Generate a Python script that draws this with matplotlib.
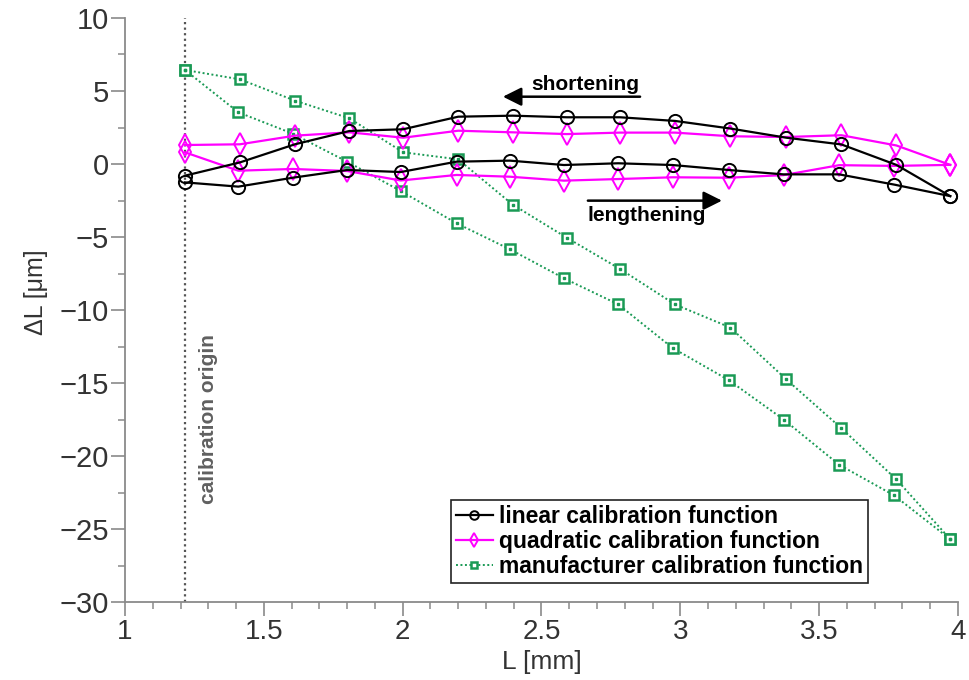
import matplotlib
matplotlib.use("Agg")
import matplotlib.pyplot as plt
from matplotlib.ticker import MultipleLocator, FixedLocator

# ---------------- data ----------------
x_len = [1.216, 1.408, 1.604, 1.800, 1.993, 2.194, 2.386, 2.581, 2.776, 2.972,
         3.174, 3.372, 3.572, 3.770, 3.972]
x_short = [1.216, 1.414, 1.612, 1.808, 2.002, 2.200, 2.396, 2.591, 2.783, 2.981,
           3.180, 3.382, 3.580, 3.778, 3.972]

lin_len = [-1.26, -1.55, -0.94, -0.41, -0.55, 0.16, 0.23, -0.07, 0.05, -0.07,
           -0.41, -0.71, -0.71, -1.41, -2.2]
lin_short = [-0.80, 0.11, 1.35, 2.26, 2.38, 3.24, 3.31, 3.20, 3.20, 2.95,
             2.43, 1.80, 1.34, -0.06, -2.2]

quad_len = [0.80, -0.46, -0.34, -0.48, -1.13, -0.75, -0.87, -1.14, -1.03, -0.91,
            -0.94, -0.76, -0.08, -0.13, -0.06]
quad_short = [1.30, 1.35, 1.94, 2.17, 1.80, 2.28, 2.17, 2.05, 2.15, 2.15,
              1.90, 1.85, 1.97, 1.27, -0.06]

manu_len = [6.44, 3.54, 2.08, 0.16, -1.85, -4.06, -5.84, -7.83, -9.61, -12.6,
            -14.8, -17.5, -20.6, -22.7, -25.7]
manu_short = [6.44, 5.80, 4.34, 3.13, 0.80, 0.32, -2.78, -5.05, -7.19, -9.62,
              -11.2, -14.76, -18.1, -21.6, -25.7]

series_labels = ["linear calibration function",
                 "quadratic calibration function",
                 "manufacturer calibration function"]

calib_origin = 1.216
x_ticks = [1, 1.5, 2, 2.5, 3, 3.5, 4]
x_ticklabels = ["1", "1.5", "2", "2.5", "3", "3.5", "4"]
y_ticks = [10, 5, 0, -5, -10, -15, -20, -25, -30]
y_ticklabels = ["10", "5", "0", "\u22125", "\u221210", "\u221215", "\u221220", "\u221225", "\u221230"]

# ---------------- style ----------------
plt.rcParams['font.family'] = ['Liberation Sans', 'DejaVu Sans']

BLACK = '#000000'
MAGENTA = '#ff00ff'
GREEN = '#1a9a55'
AXC = '#8a8a8a'
TXT = '#333333'

fig = plt.figure(figsize=(9.69, 6.8), dpi=100)
ax = fig.add_axes([125/969, 1 - 602/680, 833/969, 584/680])

# calibration origin line
ax.axvline(calib_origin, color='#555555', ls=(0, (1, 1.5)), lw=1.6, zorder=1)
ax.text(1.30, -17.5, "calibration origin", rotation=90, ha='center', va='center',
        fontsize=15, fontweight='bold', color='#606060')

# linear
for i, (xs, ys) in enumerate([(x_len, lin_len), (x_short, lin_short)]):
    ax.plot(xs, ys, color=BLACK, lw=1.6, marker='o', ms=9.5, mfc='none', mec=BLACK,
            mew=1.4, label=series_labels[0] if i == 0 else '_nolegend_', zorder=4)
# quadratic
for i, (xs, ys) in enumerate([(x_len, quad_len), (x_short, quad_short)]):
    ax.plot(xs, ys, color=MAGENTA, lw=1.6, marker='d', ms=11, mfc='none', mec=MAGENTA,
            mew=1.4, label=series_labels[1] if i == 0 else '_nolegend_', zorder=3)
# manufacturer
for i, (xs, ys) in enumerate([(x_len, manu_len), (x_short, manu_short)]):
    ax.plot(xs, ys, color=GREEN, lw=1.4, ls=(0, (1, 1.3)), marker='s', ms=7, mfc='white',
            mec=GREEN, mew=1.8, label=series_labels[2] if i == 0 else '_nolegend_', zorder=2)
    ax.plot(xs, ys, ls='none', marker='s', ms=1.6, color=GREEN, zorder=2.5)

# annotations
ax.annotate("", xy=(2.361, 4.61), xytext=(2.855, 4.61),
            arrowprops=dict(arrowstyle='-|>', lw=1.8, color='black', mutation_scale=28,
                            shrinkA=0, shrinkB=0))
ax.text(2.656, 5.45, "shortening", ha='center', va='center', fontsize=15, fontweight='bold')
ax.annotate("", xy=(3.150, -2.51), xytext=(2.667, -2.51),
            arrowprops=dict(arrowstyle='-|>', lw=1.8, color='black', mutation_scale=28,
                            shrinkA=0, shrinkB=0))
ax.text(2.88, -3.55, "lengthening", ha='center', va='center', fontsize=15, fontweight='bold')

# axes
ax.set_xlim(1, 4)
ax.set_ylim(-30, 10)
for s in ['top', 'right']:
    ax.spines[s].set_visible(False)
for s in ['left', 'bottom']:
    ax.spines[s].set_color(AXC)
    ax.spines[s].set_linewidth(1.3)

ax.xaxis.set_major_locator(FixedLocator(x_ticks))
ax.set_xticklabels(x_ticklabels, fontsize=20, color=TXT)
ax.xaxis.set_minor_locator(MultipleLocator(0.1))
ax.yaxis.set_major_locator(FixedLocator(y_ticks))
ax.set_yticklabels(y_ticklabels, fontsize=21, color=TXT)
ax.yaxis.set_minor_locator(MultipleLocator(2.5))

ax.tick_params(axis='both', which='major', direction='out', length=10, width=1.2, color=AXC)
ax.tick_params(axis='both', which='minor', direction='out', length=5, width=1.1, color=AXC)
ax.tick_params(axis='x', which='major', pad=2)
ax.tick_params(axis='y', which='major', pad=1.5)

ax.set_xlabel("L [mm]", fontsize=19, color=TXT)
ax.xaxis.set_label_coords(0.5, -0.082)
ax.set_ylabel("\u0394L [\u03bcm]", fontsize=18, color=TXT)
ax.yaxis.set_label_coords(-0.092, 0.531)

leg = ax.legend(loc='lower right', bbox_to_anchor=(0.892, 0.0325),
                prop={'weight': 'bold', 'size': 16.5}, frameon=True, fancybox=False,
                edgecolor='#222222', framealpha=1, labelspacing=0.1, handlelength=1.6,
                handletextpad=0.3, borderpad=0.2, markerscale=0.65, borderaxespad=0)
leg.get_frame().set_linewidth(1.2)

fig.savefig("out.png", dpi=100)
